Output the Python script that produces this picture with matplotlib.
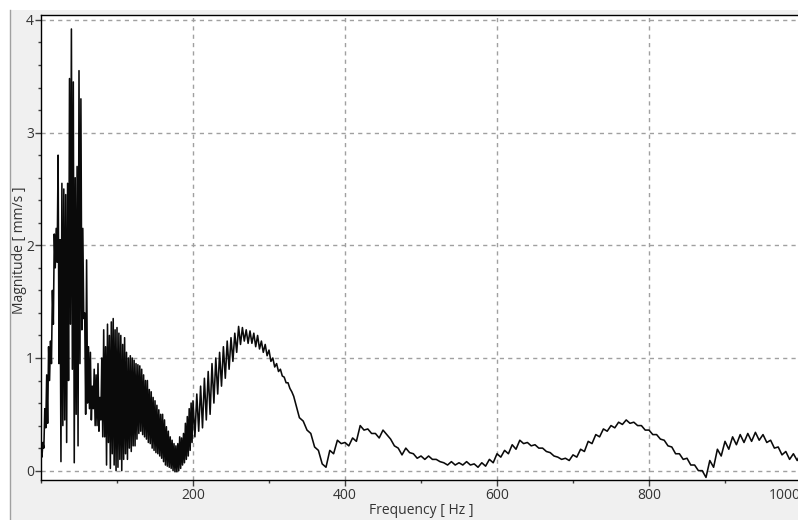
import matplotlib
matplotlib.use('Agg')
import matplotlib.pyplot as plt
from matplotlib.patches import Rectangle
from matplotlib.lines import Line2D
from matplotlib.ticker import MultipleLocator, FixedLocator

plt.rcParams['font.family'] = ['Open Sans', 'DejaVu Sans']

# ---- data ----
# dense low-frequency region (0-200 Hz): upper / lower extremes every 2.5 Hz
dense_freq = [0, 2.5, 5, 7.5, 10, 12.5, 15, 17.5, 20, 22.5, 25, 27.5, 30, 32.5, 35, 37.5,
              40, 42.5, 45, 47.5, 50, 52.5, 55, 57.5, 60, 62.5, 65, 67.5, 70, 72.5, 75, 77.5,
              80, 82.5, 85, 87.5, 90, 92.5, 95, 97.5, 100, 102.5, 105, 107.5, 110, 112.5, 115,
              117.5, 120, 122.5, 125, 127.5, 130, 132.5, 135, 137.5, 140, 142.5, 145, 147.5,
              150, 152.5, 155, 157.5, 160, 162.5, 165, 167.5, 170, 172.5, 175, 177.5, 180,
              182.5, 185, 187.5, 190, 192.5, 195, 197.5]
dense_hi = [0.15, 0.25, 0.55, 0.85, 1.1, 1.15, 1.6, 2.1, 2.15, 2.8, 2.05, 2.55, 2.5, 2.45, 2.55, 3.48,
            3.92, 3.45, 2.6, 2.7, 3.55, 3.3, 2.15, 1.4, 1.87, 1.1, 1.05, 0.75, 0.9, 0.85, 0.95, 0.65,
            1.0, 1.25, 1.1, 1.3, 1.2, 1.32, 1.35, 1.25, 1.27, 1.22, 1.2, 1.12, 1.18, 1.05, 1.0,
            1.02, 1.0, 0.98, 0.95, 0.94, 0.93, 0.9, 0.85, 0.8, 0.8, 0.72, 0.7, 0.65,
            0.62, 0.58, 0.54, 0.5, 0.5, 0.45, 0.39, 0.35, 0.3, 0.27, 0.24, 0.22, 0.24,
            0.3, 0.29, 0.33, 0.42, 0.48, 0.55, 0.6]
dense_lo = [0.12, 0.2, 0.38, 0.42, 0.8, 0.95, 1.3, 1.8, 1.85, 0.95, 0.08, 0.4, 0.45, 0.25, 0.8, 1.3,
            0.9, 0.07, 0.5, 0.22, 0.95, 1.25, 1.35, 0.5, 0.6, 0.55, 0.45, 0.55, 0.4, 0.4, 0.35, 0.45,
            0.3, 0.3, 0.05, 0.25, 0.02, 0.15, 0.05, 0.0, 0.03, 0.1, 0.0, 0.1, 0.15, 0.1, 0.2,
            0.17, 0.22, 0.22, 0.28, 0.33, 0.35, 0.32, 0.3, 0.28, 0.25, 0.24, 0.2, 0.18,
            0.16, 0.15, 0.13, 0.11, 0.08, 0.05, 0.04, 0.03, 0.02, 0.0, -0.01, -0.01, 0.0,
            0.02, 0.05, 0.07, 0.1, 0.13, 0.18, 0.25]

# broad resonance band (200-330 Hz): extremes every 5 Hz
band_freq = [200, 205, 210, 215, 220, 225, 230, 235, 240, 245, 250, 255, 260, 265,
             270, 275, 280, 285, 290, 295, 300, 305, 310, 315, 320, 325, 330]
band_hi = [0.62, 0.68, 0.75, 0.82, 0.88, 0.95, 1.0, 1.05, 1.1, 1.15, 1.18, 1.22, 1.28, 1.27,
           1.25, 1.24, 1.22, 1.2, 1.15, 1.12, 1.07, 1.0, 0.95, 0.9, 0.83, 0.78, 0.7]
band_lo = [0.3, 0.35, 0.38, 0.45, 0.5, 0.6, 0.68, 0.75, 0.82, 0.9, 0.97, 1.05, 1.12, 1.15,
           1.13, 1.13, 1.1, 1.08, 1.05, 1.02, 0.97, 0.92, 0.88, 0.84, 0.78, 0.73, 0.66]

# high-frequency tail (340-1000 Hz): extremes every 10 Hz
tail_freq = [340, 350, 360, 370, 380, 390, 400, 410, 420, 430, 440, 450, 460, 470, 480, 490,
             500, 510, 520, 530, 540, 550, 560, 570, 580, 590, 600, 610, 620, 630, 640, 650,
             660, 670, 680, 690, 700, 710, 720, 730, 740, 750, 760, 770, 780, 790, 800, 810,
             820, 830, 840, 850, 860, 870, 880, 890, 900, 910, 920, 930, 940, 950, 960, 970,
             980, 990, 1000]
tail_hi = [0.47, 0.36, 0.21, 0.06, 0.18, 0.27, 0.25, 0.29, 0.40, 0.37, 0.33, 0.36, 0.28, 0.20, 0.20, 0.15,
           0.13, 0.13, 0.10, 0.07, 0.08, 0.07, 0.08, 0.06, 0.07, 0.10, 0.15, 0.18, 0.23, 0.27, 0.25, 0.23,
           0.20, 0.16, 0.12, 0.11, 0.14, 0.19, 0.26, 0.32, 0.37, 0.40, 0.43, 0.45, 0.43, 0.40, 0.36, 0.32,
           0.27, 0.21, 0.15, 0.11, 0.05, 0.00, 0.09, 0.19, 0.26, 0.30, 0.32, 0.33, 0.34, 0.32, 0.27, 0.21,
           0.17, 0.15, 0.16]
tail_lo = [0.44, 0.33, 0.18, 0.03, 0.15, 0.24, 0.22, 0.26, 0.36, 0.33, 0.29, 0.32, 0.22, 0.14, 0.16, 0.11,
           0.10, 0.10, 0.08, 0.05, 0.05, 0.05, 0.05, 0.03, 0.04, 0.07, 0.12, 0.15, 0.19, 0.24, 0.22, 0.20,
           0.17, 0.13, 0.10, 0.09, 0.12, 0.17, 0.24, 0.30, 0.35, 0.38, 0.41, 0.42, 0.40, 0.36, 0.32, 0.28,
           0.22, 0.15, 0.10, 0.05, 0.00, -0.06, 0.03, 0.13, 0.19, 0.23, 0.25, 0.26, 0.27, 0.25, 0.20, 0.14,
           0.10, 0.09, 0.10]

x_ticks = [200, 400, 600, 800, 1000]
x_tick_labels = ['200', '400', '600', '800', '1000']
y_ticks = [0, 1, 2, 3, 4]
y_tick_labels = ['0', '1', '2', '3', '4']


def interleave(freqs, his, los, half):
    xs, ys = [], []
    for f, h, l in zip(freqs, his, los):
        xs += [f, f + half]
        ys += [h, l]
    return xs, ys


xs, ys = [], []
for fr, hi, lo, half in [(dense_freq, dense_hi, dense_lo, 1.25),
                         (band_freq, band_hi, band_lo, 2.5),
                         (tail_freq, tail_hi, tail_lo, 5.0)]:
    a, b = interleave(fr, hi, lo, half)
    xs += a
    ys += b

W, H = 798, 520
fig = plt.figure(figsize=(W / 100, H / 100), dpi=100, facecolor='white')
bg = Rectangle((10 / W, 0), 1, (H - 10) / H, transform=fig.transFigure,
               facecolor='#f0f0f0', edgecolor='none', zorder=-10)
fig.patches.append(bg)
border = Line2D([9.5 / W, 9.5 / W], [0, (H - 10) / H], transform=fig.transFigure,
                color='#a0a0a0', lw=1, zorder=-9)
fig.lines.append(border)

ax = fig.add_axes([41 / W, 40 / H, 760 / W, 465 / H])
ax.set_zorder(5)
ax.set_facecolor('white')
ax.plot(xs, ys, color='#0a0a0a', lw=1.15, zorder=3)

ax.set_xlim(0, 1000)
ax.set_ylim(-0.083, 4.044)
ax.xaxis.set_major_locator(FixedLocator(x_ticks))
ax.set_xticklabels(x_tick_labels)
ax.xaxis.set_minor_locator(MultipleLocator(100))
ax.yaxis.set_major_locator(FixedLocator(y_ticks))
ax.set_yticklabels(y_tick_labels)
ax.yaxis.set_minor_locator(MultipleLocator(0.2))

ax.grid(True, which='major', color='#a0a0a0', linestyle=(0, (3, 3)), lw=1)
ax.set_axisbelow(True)
for s in ax.spines.values():
    s.set_color('black')
    s.set_linewidth(1)

ax.tick_params(which='major', direction='out', length=4, width=1, color='#404040',
               labelsize=10, labelcolor='#333333')
ax.tick_params(which='minor', direction='out', length=2, width=1, color='#404040')
ax.tick_params(axis='y', pad=1)
ax.tick_params(axis='x', pad=2)
ax.get_xticklabels()[-1].set_horizontalalignment('right')

fig.text(20 / W, 1 - 250 / H, 'Magnitude [ mm/s ]', rotation=90, ha='center', va='center',
         fontsize=10, color='#333333')
fig.text(421 / W, 1 - 511 / H, 'Frequency [ Hz ]', ha='center', va='center',
         fontsize=10, color='#333333')

fig.savefig('out.png', dpi=100, facecolor=fig.get_facecolor())
